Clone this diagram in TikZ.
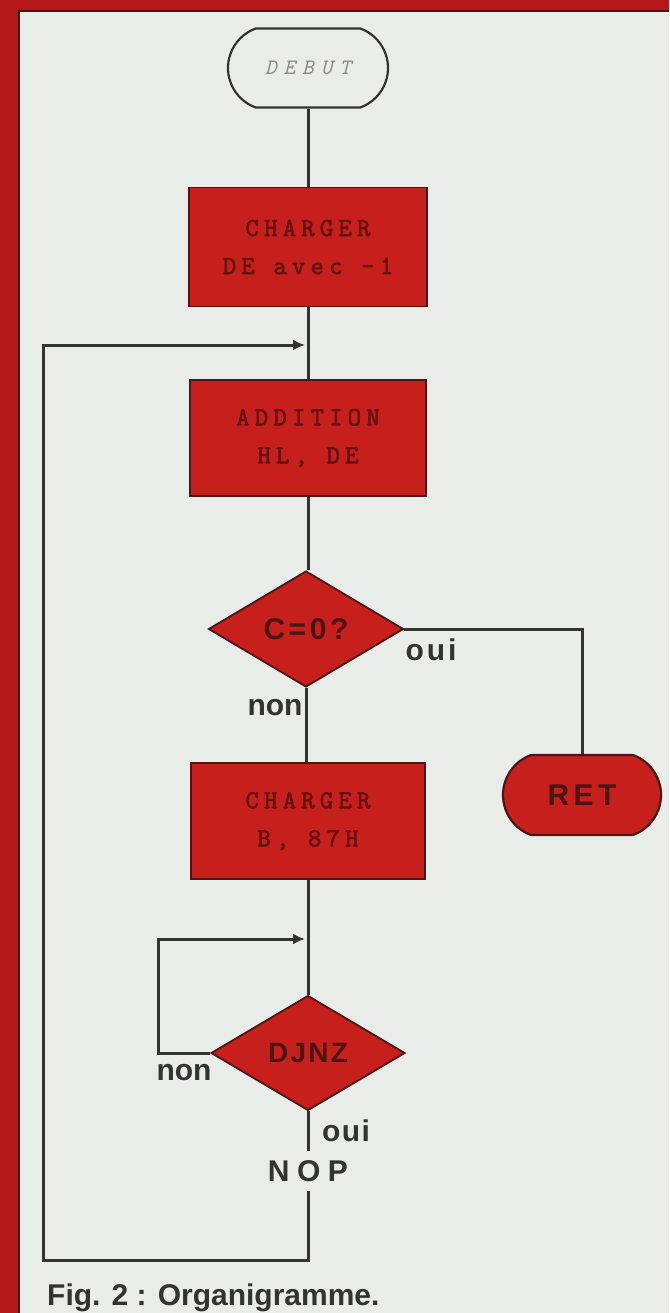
\documentclass[tikz,border=0pt]{standalone}
\usepackage{fontspec}
\setmainfont{Liberation Sans}
\newfontfamily\boxfont[LetterSpace=20,FakeBold=2.5]{Latin Modern Mono}
\newfontfamily\debfont[LetterSpace=32]{Latin Modern Mono}
\usetikzlibrary{shapes.geometric,shapes.misc,arrows.meta}
\definecolor{bgc}{HTML}{E8EDEA}
\definecolor{framered}{HTML}{B5161A}
\definecolor{boxred}{HTML}{C71F1C}
\definecolor{boxtxt}{HTML}{641212}
\definecolor{linec}{HTML}{333333}
\definecolor{edgec}{HTML}{4A1515}
\definecolor{debtxt}{HTML}{8A8A8A}
\newcommand{\lbl}[2]{\fontsize{#1}{#1}\selectfont\bfseries\addfontfeatures{LetterSpace=#2}}
\begin{document}
\begin{tikzpicture}[x=1pt,y=-1pt,
  conn/.style={draw=linec,line width=3pt},
  loopconn/.style={conn,-{Latex[length=12pt,width=11pt]},shorten >=3pt},
  procbox/.style={rectangle,fill=boxred,draw=edgec,line width=1.8pt,
     inner sep=0pt,align=center,text=boxtxt,
     font=\boxfont\fontsize{26}{38}\selectfont},
  decision/.style={diamond,fill=boxred,draw=edgec,line width=1.8pt,inner sep=0pt,text=edgec},
  termnode/.style={rounded rectangle,rounded rectangle arc length=140,draw=linec,line width=2.2pt,inner sep=0pt},
  lab/.style={inner sep=0pt,text=linec}
]
\useasboundingbox (0,0) rectangle (669,1313);
% background and frame
\fill[bgc] (0,0) rectangle (669,1313);
\fill[framered] (0,0) rectangle (669,11);
\fill[framered] (0,0) rectangle (19,1313);
\draw[edgec,line width=1.2pt] (19,1313) -- (19,11) -- (669,11);

% nodes
\node[termnode,fill=bgc,minimum width=160pt,minimum height=79pt,text=debtxt,
      font=\debfont\itshape\fontsize{22}{22}\selectfont] (debut) at (308,68) {DEBUT};
\node[procbox,minimum width=238pt,minimum height=119pt] (b1) at (308,247) {CHARGER\\DE avec -1};
\node[procbox,minimum width=236pt,minimum height=116pt] (b2) at (308,438) {ADDITION\\HL, DE};
\node[decision,minimum width=195pt,minimum height=116pt] (d1) at (306,629) {\lbl{30}{12}C=0?};
\node[termnode,fill=boxred,draw=edgec,minimum width=158pt,minimum height=80pt,text=edgec] (ret) at (582,795) {\lbl{30}{15}RET};
\node[procbox,minimum width=234pt,minimum height=116pt] (b3) at (308,821) {CHARGER\\B,  87H};
\node[decision,minimum width=194pt,minimum height=115pt] (d2) at (308,1053) {\lbl{28}{8}DJNZ};
\node[lab,minimum height=40pt] (nop) at (308,1171) {\lbl{30}{25}NOP};

% labels
\node[lab] (oui1) at (431,650) {\lbl{30}{10}oui};
\node[lab] (non1) at (275,708) {\lbl{30}{0}non};
\node[lab] (non2) at (184,1073) {\lbl{30}{0}non};
\node[lab] (oui2) at (346,1131) {\lbl{30}{5}oui};
\node[lab,anchor=base west,text=linec] (cap) at (47,1305) {\lbl{30}{0}Fig. 2 : Organigramme.};

% coordinates
\coordinate (j1) at (308,345);
\coordinate (j2) at (308,939);
\coordinate (l2) at (158,1053);
\coordinate (bb) at (43,1260);

% connectors
\draw[conn] (debut.south) -- (b1.north);
\draw[conn] (b1.south) -- (b2.north);
\draw[conn] (b2.south) -- (b2.south |- d1.north);
\draw[conn] (d1.east) -| (ret.north);
\draw[conn] (d1.south) -- (d1.south |- b3.north);
\draw[conn] (b3.south) -- (d2.north);
\draw[loopconn] (d2.west) -- (l2) |- (j2);
\draw[conn] (d2.south) -- (nop.north);
\draw[loopconn] (nop.south) |- (bb) |- (j1);
\end{tikzpicture}
\end{document}
